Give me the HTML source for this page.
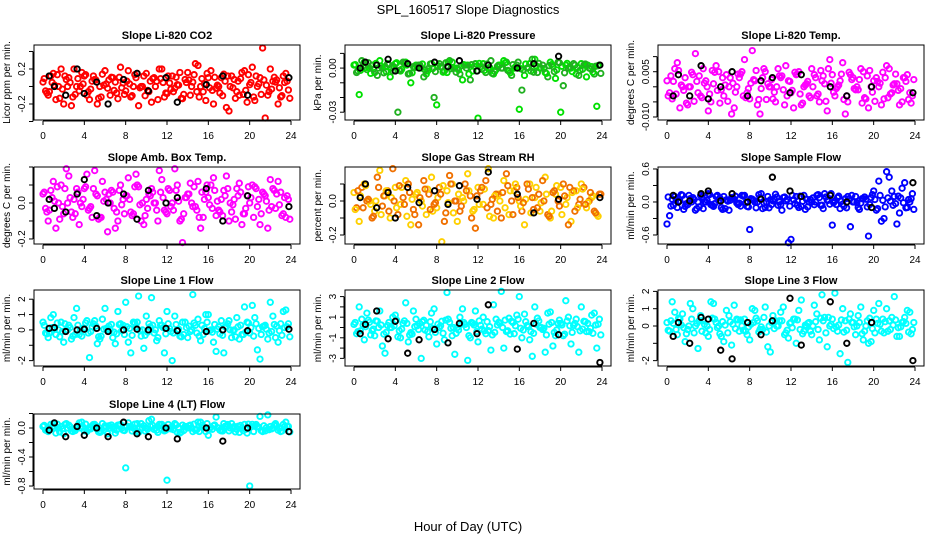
<!DOCTYPE html>
<html><head><meta charset="utf-8"><style>
html,body{margin:0;padding:0;background:#fff;}
svg{display:block;font-family:"Liberation Sans",sans-serif;}
</style></head><body>
<svg id="chart" width="936" height="540" viewBox="0 0 936 540">
<text x="468" y="14" text-anchor="middle" font-size="13">SPL_160517  Slope Diagnostics</text>
<text x="468" y="531" text-anchor="middle" font-size="13">Hour of Day (UTC)</text>
</svg>
<script>
const hoursA = [0,0.5,1,1.5,2,2.5,3,3.5,4,4.5,5,5.5,6,6.5,7,7.5,8,8.5,9,9.5,10,10.5,11,11.5,12,12.5,13,13.5,14,14.5,15,15.5,16,16.5,17,17.5,18,18.5,19,19.5,20,20.5,21,21.5,22,22.5,23,23.5];
const hoursB = [0.25,0.75,1.25,1.75,2.25,2.75,3.25,3.75,4.25,4.75,5.25,5.75,6.25,6.75,7.25,7.75,8.25,8.75,9.25,9.75,10.25,10.75,11.25,11.75,12.25,12.75,13.25,13.75,14.25,14.75,15.25,15.75,16.25,16.75,17.25,17.75,18.25,18.75,19.25,19.75,20.25,20.75,21.25,21.75,22.25,22.75,23.25,23.75];
const hoursC = [0.12,0.62,1.12,1.62,2.12,2.62,3.12,3.62,4.12,4.62,5.12,5.62,6.12,6.62,7.12,7.62,8.12,8.62,9.12,9.62,10.12,10.62,11.12,11.62,12.12,12.62,13.12,13.62,14.12,14.62,15.12,15.62,16.12,16.62,17.12,17.62,18.12,18.62,19.12,19.62,20.12,20.62,21.12,21.62,22.12,22.62,23.12,23.62];
const hoursD = [0.38,0.88,1.38,1.88,2.38,2.88,3.38,3.88,4.38,4.88,5.38,5.88,6.38,6.88,7.38,7.88,8.38,8.88,9.38,9.88,10.38,10.88,11.38,11.88,12.38,12.88,13.38,13.88,14.38,14.88,15.38,15.88,16.38,16.88,17.38,17.88,18.38,18.88,19.38,19.88,20.38,20.88,21.38,21.88,22.38,22.88,23.38,23.88];
const hoursBlack = [0.6,1.1,2.2,3.3,4.0,5.2,6.3,7.8,9.1,10.2,11.9,13.0,15.8,17.4,19.8,23.8];
const xTicks = [0,4,8,12,16,20,24];

const titles = ["Slope Li-820 CO2","Slope Li-820 Pressure","Slope Li-820 Temp.","Slope Amb. Box Temp.","Slope Gas Stream RH","Slope Sample Flow","Slope Line 1 Flow","Slope Line 2 Flow","Slope Line 3 Flow","Slope Line 4 (LT) Flow"];
const yTitles = ["Licor ppm per min.","kPa per min.","degrees C per min.","degrees C per min.","percent per min.","ml/min per min.","ml/min per min.","ml/min per min.","ml/min per min.","ml/min per min."];

const co2A = [0.05,-0.1,0.15,0.0,-0.2,0.1,0.2,-0.05,0.12,-0.15,0.08,0.0,0.18,-0.1,0.05,0.22,-0.05,-0.12,0.1,0.0,0.15,-0.18,0.06,0.2,-0.08,0.12,0.02,-0.14,0.16,0.05,0.24,-0.06,0.1,-0.2,0.0,0.14,-0.28,0.08,-0.1,0.18,0.02,-0.16,0.1,-0.36,0.2,0.05,-0.12,0.15];
const co2B = [-0.05,0.12,-0.15,0.2,0.08,-0.22,0.0,0.16,-0.1,0.06,-0.2,0.14,-0.02,0.1,-0.14,0.04,0.18,0.0,-0.22,0.12,-0.06,0.1,0.2,-0.12,0.04,-0.02,0.16,0.08,-0.1,0.26,0.0,-0.16,0.18,-0.02,0.1,-0.24,0.12,-0.06,0.16,-0.18,0.22,0.0,0.44,-0.1,0.06,-0.2,0.12,-0.04];
const co2C = [0.09,-0.06,0.015,-0.135,0.12,0.045,-0.09,0,0.135,-0.03,0.075,-0.12,0.03,0.105,-0.075,-0.015,0.06,-0.105,0.15,0,-0.045,0.09,-0.15,0.045,0.12,-0.06,0.015,-0.09,0.075,0.135,-0.12,0.03,-0.015,0.105,-0.075,0.06,0,-0.135,0.09,-0.045,0.045,0.12,-0.09,0.015,-0.03,0.075,-0.105,0.06];
const co2D = [-0.075,0.045,0.135,-0.03,0,-0.12,0.09,0.03,-0.06,0.12,-0.135,0.015,0.075,-0.045,0.105,-0.09,0.03,0.135,-0.015,-0.105,0.06,0,0.09,-0.075,-0.03,0.105,-0.135,0.045,0,-0.06,0.09,0.15,-0.045,0.015,-0.105,0.12,-0.015,0.06,-0.09,0.135,-0.12,0.03,0.075,-0.06,0.105,-0.015,0.045,-0.135];
const co2K = [0.12,0.0,-0.1,0.2,-0.08,0.05,-0.2,0.08,0.15,-0.05,0.1,-0.18,0.02,0.12,-0.1,0.1];

const presA = [0.002,-0.018,0.004,0.0,-0.003,0.005,0.001,-0.006,0.003,-0.002,0.004,-0.01,0.002,0.0,-0.004,0.003,-0.025,0.001,-0.003,0.004,0.0,-0.008,0.002,-0.002,-0.034,0.003,0.0,-0.004,0.002,0.005,-0.002,0.0,-0.028,-0.005,0.003,0.006,0.0,-0.003,0.004,-0.007,-0.03,0.002,0.0,-0.004,0.003,-0.006,0.001,-0.026];
const presB = [-0.003,0.005,-0.001,0.002,-0.005,0.0,0.003,-0.002,-0.03,0.004,-0.004,0.001,0.002,-0.006,0.0,-0.02,0.003,-0.002,0.005,0.0,-0.004,0.002,-0.008,0.003,0.001,-0.003,0.005,-0.001,0.0,0.004,-0.005,0.002,-0.015,0.0,0.006,-0.003,0.002,-0.006,0.001,0.004,-0.012,0.0,0.003,-0.005,0.002,0.0,-0.004,0.002];
const presC = [0.0024,-0.0016,0.0004,-0.0036,0.0032,0.0012,-0.0024,0,0.0036,-0.0008,0.002,-0.0032,0.0008,0.0028,-0.002,-0.0004,0.0016,-0.0028,0.004,0,-0.0012,0.0024,-0.004,0.0012,0.0032,-0.0016,0.0004,-0.0024,0.002,0.0036,-0.0032,0.0008,-0.0004,0.0028,-0.002,0.0016,0,-0.0036,0.0024,-0.0012,0.0012,0.0032,-0.0024,0.0004,-0.0008,0.002,-0.0028,0.0016];
const presD = [-0.002,0.0012,0.0036,-0.0008,0,-0.0032,0.0024,0.0008,-0.0016,0.0032,-0.0036,0.0004,0.002,-0.0012,0.0028,-0.0024,0.0008,0.0036,-0.0004,-0.0028,0.0016,0,0.0024,-0.002,-0.0008,0.0028,-0.0036,0.0012,0,-0.0016,0.0024,0.004,-0.0012,0.0004,-0.0028,0.0032,-0.0004,0.0016,-0.0024,0.0036,-0.0032,0.0008,0.002,-0.0016,0.0028,-0.0004,0.0012,-0.0036];
const presK = [0.0,0.004,0.002,0.006,-0.002,0.003,0.0,0.004,0.001,0.005,-0.002,0.002,0.0,0.003,0.008,0.002];

const ltempA = [0.002,-0.004,0.008,0.0,-0.006,0.004,-0.002,0.006,-0.008,0.001,0.005,-0.003,0.0,-0.007,0.003,0.009,-0.004,0.002,-0.009,0.005,0.0,-0.005,0.003,0.007,-0.002,0.004,-0.006,0.001,0.006,-0.003,0.002,-0.008,0.004,0.0,0.008,-0.005,0.003,-0.001,0.005,-0.007,0.002,0.0,-0.004,0.006,0.001,-0.006,0.003,-0.002];
const ltempB = [-0.002,0.006,-0.007,0.003,0.0,0.011,-0.003,0.002,-0.005,0.007,-0.001,0.004,-0.009,0.0,0.005,-0.002,0.012,-0.006,0.003,0.001,-0.004,0.006,-0.001,0.002,-0.007,0.005,0.0,-0.003,0.004,-0.005,0.001,0.009,-0.003,0.002,-0.009,0.004,-0.001,0.006,-0.004,0.0,0.003,-0.006,0.007,-0.002,0.001,-0.005,0.004,-0.003];
const ltempC = [-0.003,0.0018,0.0054,-0.0012,0,-0.0048,0.0036,0.0012,-0.0024,0.0048,-0.0054,0.0006,0.003,-0.0018,0.0042,-0.0036,0.0012,0.0054,-0.0006,-0.0042,0.0024,0,0.0036,-0.003,-0.0012,0.0042,-0.0054,0.0018,0,-0.0024,0.0036,0.006,-0.0018,0.0006,-0.0042,0.0048,-0.0006,0.0024,-0.0036,0.0054,-0.0048,0.0012,0.003,-0.0024,0.0042,-0.0006,0.0018,-0.0054];
const ltempD = [0.0036,-0.0024,0.0006,-0.0054,0.0048,0.0018,-0.0036,0,0.0054,-0.0012,0.003,-0.0048,0.0012,0.0042,-0.003,-0.0006,0.0024,-0.0042,0.006,0,-0.0018,0.0036,-0.006,0.0018,0.0048,-0.0024,0.0006,-0.0036,0.003,0.0054,-0.0048,0.0012,-0.0006,0.0042,-0.003,0.0024,0,-0.0054,0.0036,-0.0018,0.0018,0.0048,-0.0036,0.0006,-0.0012,0.003,-0.0042,0.0024];
const ltempK = [-0.003,0.004,-0.003,0.007,-0.004,0.0,0.005,-0.003,0.002,0.003,-0.002,0.004,0.0,-0.003,0.0,-0.002];

const ambA = [0.05,-0.1,0.12,0.0,-0.06,0.15,0.02,-0.12,0.08,-0.03,0.18,-0.08,0.06,0.0,-0.14,0.1,0.04,-0.05,0.16,-0.1,0.02,0.08,-0.04,0.13,-0.06,0.0,0.1,-0.22,0.05,-0.02,0.12,-0.08,0.03,0.14,-0.04,0.07,-0.1,0.02,0.11,-0.06,0.0,0.09,-0.12,0.04,0.13,-0.03,0.06,-0.08];
const ambB = [-0.03,0.07,-0.14,0.1,0.19,-0.05,0.08,-0.02,0.16,-0.08,0.04,0.12,-0.16,0.06,-0.1,0.02,0.14,-0.06,0.09,-0.12,0.05,0.0,0.18,-0.04,0.07,0.19,-0.1,0.03,0.11,-0.02,-0.14,0.06,0.1,-0.07,0.02,0.15,-0.05,0.08,-0.12,0.04,0.1,-0.02,0.06,-0.14,0.08,0.12,-0.06,0.02];
const ambC = [0.06,-0.04,0.01,-0.09,0.08,0.03,-0.06,0,0.09,-0.02,0.05,-0.08,0.02,0.07,-0.05,-0.01,0.04,-0.07,0.1,0,-0.03,0.06,-0.1,0.03,0.08,-0.04,0.01,-0.06,0.05,0.09,-0.08,0.02,-0.01,0.07,-0.05,0.04,0,-0.09,0.06,-0.03,0.03,0.08,-0.06,0.01,-0.02,0.05,-0.07,0.04];
const ambD = [-0.05,0.03,0.09,-0.02,0,-0.08,0.06,0.02,-0.04,0.08,-0.09,0.01,0.05,-0.03,0.07,-0.06,0.02,0.09,-0.01,-0.07,0.04,0,0.06,-0.05,-0.02,0.07,-0.09,0.03,0,-0.04,0.06,0.1,-0.03,0.01,-0.07,0.08,-0.01,0.04,-0.06,0.09,-0.08,0.02,0.05,-0.04,0.07,-0.01,0.03,-0.09];
const ambK = [0.02,-0.03,-0.05,0.05,0.13,-0.07,0.0,0.05,-0.09,0.07,0.0,0.03,0.08,-0.1,0.04,-0.02];

const rhA = [0.05,-0.12,0.1,0.0,-0.06,0.18,0.03,-0.1,0.08,-0.02,0.12,-0.14,0.04,0.0,-0.08,0.14,-0.04,-0.24,0.06,0.1,-0.12,0.02,0.16,-0.06,0.08,-0.02,0.19,-0.1,0.04,0.12,-0.08,0.06,0.0,-0.14,0.1,0.02,-0.06,0.14,-0.1,0.04,0.08,-0.02,-0.12,0.06,0.1,-0.04,0.02,-0.08];
const rhB = [-0.04,0.08,0.0,-0.1,0.14,-0.03,0.06,0.19,-0.08,0.02,0.1,-0.05,-0.14,0.12,0.04,-0.02,0.08,-0.12,0.15,0.0,-0.06,0.1,0.03,-0.16,0.06,0.12,-0.02,0.04,-0.1,0.16,0.0,0.08,-0.06,0.1,0.02,-0.04,0.12,-0.08,0.05,0.0,0.1,-0.14,0.06,-0.02,0.08,0.0,-0.06,0.04];
const rhC = [-0.05,0.03,0.09,-0.02,0,-0.08,0.06,0.02,-0.04,0.08,-0.09,0.01,0.05,-0.03,0.07,-0.06,0.02,0.09,-0.01,-0.07,0.04,0,0.06,-0.05,-0.02,0.07,-0.09,0.03,0,-0.04,0.06,0.1,-0.03,0.01,-0.07,0.08,-0.01,0.04,-0.06,0.09,-0.08,0.02,0.05,-0.04,0.07,-0.01,0.03,-0.09];
const rhD = [0.06,-0.04,0.01,-0.09,0.08,0.03,-0.06,0,0.09,-0.02,0.05,-0.08,0.02,0.07,-0.05,-0.01,0.04,-0.07,0.1,0,-0.03,0.06,-0.1,0.03,0.08,-0.04,0.01,-0.06,0.05,0.09,-0.08,0.02,-0.01,0.07,-0.05,0.04,0,-0.09,0.06,-0.03,0.03,0.08,-0.06,0.01,-0.02,0.05,-0.07,0.04];
const rhK = [0.02,0.1,-0.04,0.05,-0.1,0.08,-0.01,0.06,-0.02,0.09,0.01,0.17,0.04,-0.07,0.01,0.02];

const sflowA = [-0.4,0.05,-0.1,0.12,-0.05,0.08,0.0,-0.12,0.15,-0.08,0.02,0.1,-0.15,0.05,-0.02,0.12,-0.5,0.0,0.08,-0.1,0.04,0.14,-0.05,0.02,-0.68,0.1,-0.08,0.05,0.0,0.12,-0.06,0.03,-0.42,0.08,-0.04,0.1,0.0,-0.1,0.06,-0.62,0.2,0.38,-0.3,0.45,0.1,-0.2,0.35,0.0];
const sflowB = [-0.25,0.1,0.02,-0.08,0.06,-0.15,0.12,0.0,-0.05,0.1,-0.1,0.04,0.08,-0.02,0.12,-0.08,0.05,0.0,-0.12,0.1,0.02,-0.06,0.08,-0.74,0.04,-0.1,0.12,0.0,-0.05,0.08,0.15,-0.04,0.02,-0.12,0.06,-0.45,0.1,-0.02,0.05,0.08,-0.15,-0.35,0.55,0.2,-0.4,0.25,-0.1,0.15];
const sflowC = [0.09,-0.06,0.015,-0.135,0.12,0.045,-0.09,0,0.135,-0.03,0.075,-0.12,0.03,0.105,-0.075,-0.015,0.06,-0.105,0.15,0,-0.045,0.09,-0.15,0.045,0.12,-0.06,0.015,-0.09,0.075,0.135,-0.12,0.03,-0.015,0.105,-0.075,0.06,0,-0.135,0.09,-0.045,0.045,0.12,-0.09,0.015,-0.03,0.075,-0.105,0.06];
const sflowD = [-0.075,0.045,0.135,-0.03,0,-0.12,0.09,0.03,-0.06,0.12,-0.135,0.015,0.075,-0.045,0.105,-0.09,0.03,0.135,-0.015,-0.105,0.06,0,0.09,-0.075,-0.03,0.105,-0.135,0.045,0,-0.06,0.09,0.15,-0.045,0.015,-0.105,0.12,-0.015,0.06,-0.09,0.135,-0.12,0.03,0.075,-0.06,0.105,-0.015,0.045,-0.135];
const sflowK = [0.12,0.0,0.02,0.15,0.2,0.02,0.15,0.0,0.05,0.45,0.2,0.1,0.12,0.0,-0.1,0.35];

const line1A = [0.5,-0.5,1.0,0.0,-0.8,0.3,0.8,-0.3,0.1,-1.8,0.6,-0.6,1.4,0.0,-0.9,0.4,1.8,-1.5,0.2,-0.4,0.9,2.1,-0.7,0.3,1.2,-2.0,0.0,0.5,-0.5,2.3,0.7,-0.3,1.0,-0.8,0.2,-1.5,0.6,0.0,-0.6,1.5,-0.2,0.8,-1.9,0.3,1.8,-0.5,0.4,1.3];
const line1B = [-0.2,0.8,-0.3,0.5,0.0,-0.6,1.4,-0.4,0.6,0.2,-0.9,0.7,0.0,-0.5,1.2,0.3,-0.8,0.5,2.2,-1.2,0.4,-0.2,0.6,-1.5,0.1,0.9,-0.4,0.5,-0.1,0.3,-0.7,1.0,0.0,-1.4,0.6,0.2,-0.5,0.8,-0.3,0.5,1.6,-1.3,0.2,-0.6,0.9,-0.8,1.2,0.4];
const line1C = [0.3,-0.2,0.05,-0.45,0.4,0.15,-0.3,0,0.45,-0.1,0.25,-0.4,0.1,0.35,-0.25,-0.05,0.2,-0.35,0.5,0,-0.15,0.3,-0.5,0.15,0.4,-0.2,0.05,-0.3,0.25,0.45,-0.4,0.1,-0.05,0.35,-0.25,0.2,0,-0.45,0.3,-0.15,0.15,0.4,-0.3,0.05,-0.1,0.25,-0.35,0.2];
const line1D = [-0.25,0.15,0.45,-0.1,0,-0.4,0.3,0.1,-0.2,0.4,-0.45,0.05,0.25,-0.15,0.35,-0.3,0.1,0.45,-0.05,-0.35,0.2,0,0.3,-0.25,-0.1,0.35,-0.45,0.15,0,-0.2,0.3,0.5,-0.15,0.05,-0.35,0.4,-0.05,0.2,-0.3,0.45,-0.4,0.1,0.25,-0.2,0.35,-0.05,0.15,-0.45];
const line1K = [0.1,0.15,-0.1,0.0,0.05,0.1,-0.1,0.0,0.05,0.0,0.1,-0.05,-0.1,0.0,-0.05,0.05];

const line2A = [0.3,2.0,-1.2,0.5,-0.8,1.6,-2.5,0.0,1.2,-1.0,2.4,-0.5,0.8,-3.0,0.2,1.4,-1.6,0.6,3.4,-0.8,0.0,1.8,-3.2,0.4,-1.4,1.0,-0.3,2.2,0.5,-2.0,0.9,-0.6,3.0,1.3,-1.2,2.0,0.0,-2.4,1.5,-0.8,0.4,2.6,-1.6,0.8,2.0,-0.4,1.2,-2.0];
const line2B = [-0.6,0.8,1.4,-0.3,0.6,-1.8,0.2,1.0,-0.9,0.4,-1.4,1.6,-0.2,0.7,-0.9,1.8,0.0,-1.2,0.5,-2.6,1.0,0.3,-1.0,1.6,0.2,-0.6,-2.2,0.8,3.5,-0.4,0.6,1.2,-1.0,0.2,-2.8,0.9,-0.2,1.4,-1.8,0.4,-0.8,1.0,0.2,-2.4,0.6,-0.4,1.4,0.8];
const line2C = [0.48,-0.32,0.08,-0.72,0.64,0.24,-0.48,0,0.72,-0.16,0.4,-0.64,0.16,0.56,-0.4,-0.08,0.32,-0.56,0.8,0,-0.24,0.48,-0.8,0.24,0.64,-0.32,0.08,-0.48,0.4,0.72,-0.64,0.16,-0.08,0.56,-0.4,0.32,0,-0.72,0.48,-0.24,0.24,0.64,-0.48,0.08,-0.16,0.4,-0.56,0.32];
const line2D = [-0.4,0.24,0.72,-0.16,0,-0.64,0.48,0.16,-0.32,0.64,-0.72,0.08,0.4,-0.24,0.56,-0.48,0.16,0.72,-0.08,-0.56,0.32,0,0.48,-0.4,-0.16,0.56,-0.72,0.24,0,-0.32,0.48,0.8,-0.24,0.08,-0.56,0.64,-0.08,0.32,-0.48,0.72,-0.64,0.16,0.4,-0.32,0.56,-0.08,0.24,-0.72];
const line2K = [-0.6,0.3,1.6,-1.1,0.6,-2.5,-1.2,-0.2,-1.5,0.4,-0.6,2.2,-2.1,0.4,-0.7,-3.4];

const line3A = [0.2,1.4,-0.5,0.7,-0.2,1.0,-1.3,0.3,-0.6,1.3,0.0,-0.9,0.6,1.2,-0.3,0.4,-0.8,0.9,-0.2,1.1,-1.5,0.3,0.8,-0.4,0.2,-1.0,1.5,0.0,-0.5,0.7,1.8,-1.2,0.4,-0.3,1.0,-2.1,0.2,0.6,-0.8,-1.0,0.9,1.3,-0.4,0.3,1.7,-0.6,0.5,0.8];
const line3B = [-0.3,0.8,0.4,-0.9,1.3,0.0,0.6,-0.4,1.4,0.2,-0.6,0.9,-1.1,0.4,0.0,-0.5,1.0,0.3,-0.2,-1.2,0.6,0.0,1.1,-0.7,0.4,0.9,-0.3,0.2,1.2,-0.8,0.5,0.0,1.9,-1.6,0.3,0.7,-0.5,1.1,0.0,-0.9,0.4,-0.3,1.0,0.5,-0.6,0.2,0.9,-0.2];
const line3C = [-0.25,0.15,0.45,-0.1,0,-0.4,0.3,0.1,-0.2,0.4,-0.45,0.05,0.25,-0.15,0.35,-0.3,0.1,0.45,-0.05,-0.35,0.2,0,0.3,-0.25,-0.1,0.35,-0.45,0.15,0,-0.2,0.3,0.5,-0.15,0.05,-0.35,0.4,-0.05,0.2,-0.3,0.45,-0.4,0.1,0.25,-0.2,0.35,-0.05,0.15,-0.45];
const line3D = [0.3,-0.2,0.05,-0.45,0.4,0.15,-0.3,0,0.45,-0.1,0.25,-0.4,0.1,0.35,-0.25,-0.05,0.2,-0.35,0.5,0,-0.15,0.3,-0.5,0.15,0.4,-0.2,0.05,-0.3,0.25,0.45,-0.4,0.1,-0.05,0.35,-0.25,0.2,0,-0.45,0.3,-0.15,0.15,0.4,-0.3,0.05,-0.1,0.25,-0.35,0.2];
const line3K = [-0.6,0.2,-1.0,0.5,0.4,-1.4,-1.9,0.2,-0.5,0.3,1.6,-1.1,1.4,-1.0,0.2,-2.0];

const line4A = [0.02,-0.05,0.06,0.0,-0.08,0.04,-0.02,0.07,-0.04,0.01,0.05,-0.06,0.03,0.0,-0.07,0.05,-0.55,0.02,-0.04,0.06,0.0,0.12,-0.03,0.05,-0.72,0.02,-0.06,0.04,0.0,-0.05,0.08,0.01,-0.1,0.03,0.0,0.06,-0.04,0.02,-0.06,0.05,-0.8,0.03,0.16,-0.04,0.02,0.06,-0.05,0.08];
const line4B = [-0.03,0.05,-0.07,0.02,0.06,-0.04,0.0,0.08,-0.05,0.03,-0.02,0.06,-0.08,0.01,0.04,-0.03,0.07,0.0,-0.06,0.03,0.1,-0.02,0.05,-0.04,0.0,0.06,-0.07,0.02,0.04,-0.03,0.08,-0.05,0.01,0.15,-0.04,0.03,0.06,-0.02,0.0,-0.07,0.05,0.02,-0.05,0.18,0.0,-0.03,0.05,0.02];
const line4C = [0.036,-0.024,0.006,-0.054,0.048,0.018,-0.036,0,0.054,-0.012,0.03,-0.048,0.012,0.042,-0.03,-0.006,0.024,-0.042,0.06,0,-0.018,0.036,-0.06,0.018,0.048,-0.024,0.006,-0.036,0.03,0.054,-0.048,0.012,-0.006,0.042,-0.03,0.024,0,-0.054,0.036,-0.018,0.018,0.048,-0.036,0.006,-0.012,0.03,-0.042,0.024];
const line4D = [-0.03,0.018,0.054,-0.012,0,-0.048,0.036,0.012,-0.024,0.048,-0.054,0.006,0.03,-0.018,0.042,-0.036,0.012,0.054,-0.006,-0.042,0.024,0,0.036,-0.03,-0.012,0.042,-0.054,0.018,0,-0.024,0.036,0.06,-0.018,0.006,-0.042,0.048,-0.006,0.024,-0.036,0.054,-0.048,0.012,0.03,-0.024,0.042,-0.006,0.018,-0.054];
const line4K = [-0.03,0.07,-0.12,0.02,-0.1,0.0,-0.12,0.08,-0.08,-0.12,0.0,-0.15,0.0,-0.18,0.0,-0.05];

const yTickVals = [[-0.4,-0.2,0,0.2,0.4],[0.01,0,-0.01,-0.02,-0.03],[0.01,0.005,0,-0.005,-0.01],[0.2,0.1,0,-0.1,-0.2],[0.1,0,-0.1,-0.2],[0.6,0.3,0,-0.3,-0.6],[2,1,0,-1,-2],[3,2,1,0,-1,-2,-3],[2,1,0,-1,-2],[0.2,0,-0.2,-0.4,-0.6,-0.8]];
const yTickLabels = [["","-0.2","","0.2",""],["","0.00","","","-0.03"],["","0.005","","","-0.010"],["","","0.0","","-0.2"],["","0.0","","-0.2"],["0.6","","0.0","","-0.6"],["2","1","0","","-2"],["3","","1","","-1","","-3"],["2","1","0","","-2"],["","0.0","","-0.4","","-0.8"]];
const yDomains = [[-0.383,0.474],[-0.0353,0.0157],[-0.011,0.01385],[-0.228,0.2],[-0.253,0.2],[-0.764,0.636],[-2.35,2.6],[-3.74,3.64],[-2.31,2.08],[-0.841,0.193]];

const seriesA = [co2A,presA,ltempA,ambA,rhA,sflowA,line1A,line2A,line3A,line4A];
const seriesB = [co2B,presB,ltempB,ambB,rhB,sflowB,line1B,line2B,line3B,line4B];
const seriesC = [co2C,presC,ltempC,ambC,rhC,sflowC,line1C,line2C,line3C,line4C];
const seriesD = [co2D,presD,ltempD,ambD,rhD,sflowD,line1D,line2D,line3D,line4D];
const seriesK = [co2K,presK,ltempK,ambK,rhK,sflowK,line1K,line2K,line3K,line4K];
const colorsA = ["#ff0000","#00e000","#ff00ff","#ff00ff","#ffd000","#0000ff","#00ffff","#00ffff","#00ffff","#00ffff"];
const colorsB = ["#ff0000","#20b020","#ff00ff","#ff00ff","#f07000","#0000ff","#00ffff","#00ffff","#00ffff","#00ffff"];

const NS = "http://www.w3.org/2000/svg";
const svg = document.getElementById('chart');
const colT0 = [43,354,667], colT24 = [291,602,915];
const rowTop = [45,167,290,414], rowBot = [120,244,366,489];

function mk(tag, attrs, parent){ const e=document.createElementNS(NS,tag); for(const k in attrs) e.setAttribute(k,attrs[k]); parent.appendChild(e); return e; }

for(let p=0;p<10;p++){
  const c=p%3, r=Math.floor(p/3);
  const t0=colT0[c], t24=colT24[c], L=t0-9, R=t24+9, T=rowTop[r], B=rowBot[r];
  const dom=yDomains[p];
  const xs=v=>t0+(t24-t0)*v/24;
  const ys=v=>B-(v-dom[0])/(dom[1]-dom[0])*(B-T);
  const g=mk('g',{},svg);
  
  
  const title=mk('text',{x:(L+R)/2,y:T-6,'text-anchor':'middle','font-size':'11','font-weight':'bold'},g);
  title.textContent=titles[p];
  
  
  const pts=mk('g',{fill:'none','stroke-width':'1.9'},g);
  
  
  const drawSet=(hrs,vals,col,nm)=>{
    vals.forEach((v,i)=>{
      const ci=mk('circle',{cx:xs(hrs[i]).toFixed(1),cy:ys(v).toFixed(1),r:'2.7',stroke:col},pts);
      
      
    });
  };
  drawSet(hoursA,seriesA[p],colorsA[p],'point');
  drawSet(hoursB,seriesB[p],colorsB[p],'point');
  drawSet(hoursC,seriesC[p],colorsA[p],'point');
  drawSet(hoursD,seriesD[p],colorsB[p],'point');
  drawSet(hoursBlack,seriesK[p],'#000000','reference-point');
  const box=mk('rect',{x:L,y:T,width:R-L,height:B-T,fill:'none',stroke:'#000','stroke-width':'1'},g);
  
  
  const xa=mk('g',{stroke:'#000','stroke-width':'1'},g);
  
  
  mk('line',{x1:xs(0),x2:xs(24),y1:B+1,y2:B+1},xa);
  xTicks.forEach(v=>{
    mk('line',{x1:xs(v),x2:xs(v),y1:B+1,y2:B+5},xa);
    const tl=mk('text',{x:xs(v),y:B+19,'text-anchor':'middle','font-size':'10',stroke:'none',fill:'#000'},xa);
    tl.textContent=String(v);
    
    
  });
  const ya=mk('g',{stroke:'#000','stroke-width':'1'},g);
  
  
  const tv=yTickVals[p];
  const yl=tv.map(ys);
  mk('line',{x1:L-1,x2:L-1,y1:Math.min(...yl),y2:Math.max(...yl)},ya);
  tv.forEach((v,i)=>{
    const y=ys(v);
    mk('line',{x1:L-1,x2:L-5,y1:y,y2:y},ya);
    if(yTickLabels[p][i]){
      const tl=mk('text',{x:L-9,y:y,'text-anchor':'middle','font-size':'10',stroke:'none',fill:'#000',transform:`rotate(-90 ${L-9} ${y})`},ya);
      tl.textContent=yTickLabels[p][i];
      
      
    }
  });
  const yt=mk('text',{x:L-24,y:(T+B)/2,'text-anchor':'middle','font-size':'10',transform:`rotate(-90 ${L-24} ${(T+B)/2})`},g);
  yt.textContent=yTitles[p];
  
  
}
</script>
</body></html>
